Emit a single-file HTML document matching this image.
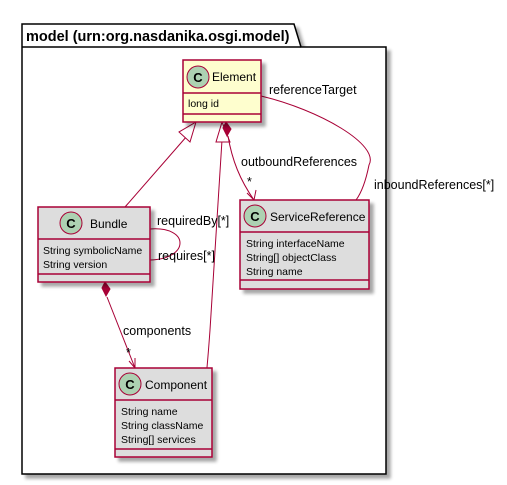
<!DOCTYPE html>
<html><head><meta charset="utf-8"><style>
html,body{margin:0;padding:0;background:#fff;width:507px;height:485px;overflow:hidden}
svg{display:block}
text{font-family:"Liberation Sans",sans-serif;fill:#000}
</style></head><body>
<svg width="507" height="485" viewBox="0 0 507 485" xmlns="http://www.w3.org/2000/svg">
<defs><filter id="sh" x="-10%" y="-10%" width="130%" height="130%"><feGaussianBlur in="SourceAlpha" stdDeviation="1.5"/><feOffset dx="4" dy="4"/><feComponentTransfer><feFuncA type="linear" slope="0.35"/></feComponentTransfer><feMerge><feMergeNode/><feMergeNode in="SourceGraphic"/></feMerge></filter></defs>
<g filter="url(#sh)">
<path d="M22,24 L294,24 L301,47 L386,47 L386,474 L22,474 Z" fill="#fff" stroke="#000" stroke-width="1.5"/>
<line x1="22" y1="47" x2="301" y2="47" stroke="#000" stroke-width="1.5"/>
</g>
<text x="26" y="41" font-size="14.5" font-weight="bold">model (urn:org.nasdanika.osgi.model)</text>

<g stroke="#A80036" fill="none" stroke-width="1">
<line x1="125" y1="207" x2="187" y2="136"/>
<polygon points="196,122 190,142 179,132" fill="#fff"/>
<path d="M188,457 C200,440 205,400 210,330 L222,140"/>
<polygon points="222,122 230,142 216,142" fill="#fff"/>
<path d="M228,136 C232,160 240,180 254,200"/>
<polyline points="247,193 254,200 256,190"/>
<polygon points="226,122 223,128 227,136 231,129" fill="#A80036"/>
<path d="M261,96 C320,110 380,145 369,165 C366,180 362,192 356,200"/>
<path d="M150,229 C190,226 190,259 150,260"/>
<line x1="107" y1="297" x2="135" y2="368"/>
<polyline points="129,361 135,368 135,358"/>
<polygon points="105,282 102,288 106,296 110,289" fill="#A80036"/>
</g>
<g font-size="12.5">
<text x="269" y="94">referenceTarget</text>
<text x="241" y="166">outboundReferences</text>
<text x="247" y="186">*</text>
<text x="374" y="189">inboundReferences[*]</text>
<text x="157" y="225">requiredBy[*]</text>
<text x="158" y="260">requires[*]</text>
<text x="123" y="335">components</text>
<text x="126" y="357">*</text>
</g>

<g stroke="#A80036" stroke-width="1.5">
<rect x="183" y="60" width="78" height="62" fill="#FEFECE" filter="url(#sh)"/>
<line x1="183" y1="93" x2="261" y2="93"/><line x1="183" y1="114" x2="261" y2="114"/>
<rect x="38" y="207" width="112" height="75" fill="#DDDDDD" filter="url(#sh)"/>
<line x1="38" y1="239" x2="150" y2="239"/><line x1="38" y1="274" x2="150" y2="274"/>
<rect x="240" y="200" width="129" height="89" fill="#DDDDDD" filter="url(#sh)"/>
<line x1="240" y1="232" x2="369" y2="232"/><line x1="240" y1="280" x2="369" y2="280"/>
<rect x="115" y="368" width="97" height="89" fill="#DDDDDD" filter="url(#sh)"/>
<line x1="115" y1="400" x2="212" y2="400"/><line x1="115" y1="449" x2="212" y2="449"/>
</g>
<g fill="#ADD1B2" stroke="#A80036" stroke-width="1">
<circle cx="198" cy="77" r="11"/><circle cx="71" cy="223" r="11"/>
<circle cx="255" cy="216" r="11"/><circle cx="130" cy="384" r="11"/>
</g>
<g font-size="13" font-weight="bold" text-anchor="middle">
<text x="198" y="82">C</text><text x="71" y="228">C</text>
<text x="255" y="221">C</text><text x="130" y="389">C</text>
</g>
<g font-size="12">
<text x="212" y="81">Element</text>
<text x="90" y="228">Bundle</text>
<text x="270" y="221">ServiceReference</text>
<text x="145" y="389">Component</text>
</g>
<g font-size="10.5">
<text x="188" y="107">long id</text>
<text x="43" y="254">String symbolicName</text>
<text x="43" y="268">String version</text>
<text x="246" y="247">String interfaceName</text>
<text x="246" y="261">String[] objectClass</text>
<text x="246" y="275">String name</text>
<text x="121" y="415">String name</text>
<text x="121" y="429">String className</text>
<text x="121" y="443">String[] services</text>
</g>
</svg>
</body></html>
